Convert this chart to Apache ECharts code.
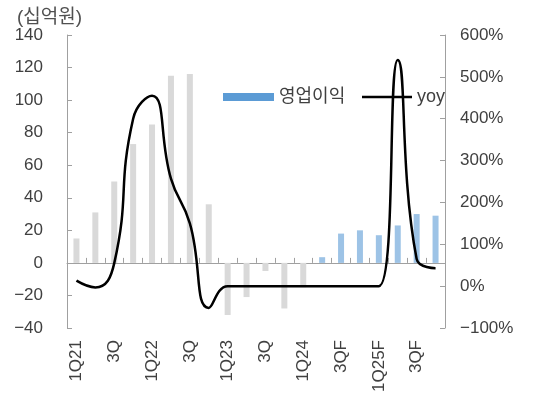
<!DOCTYPE html>
<html>
<head>
<meta charset="utf-8">
<script src="https://cdn.jsdelivr.net/npm/echarts@6/dist/echarts.min.js"></script>
<style>
html,body{margin:0;padding:0;background:#fff;}
#chart{width:537px;height:398px;}
</style>
</head>
<body>
<div id="chart"></div>
<script>
// ---- data ----
var categories = ['1Q21','2Q21','3Q21','4Q21','1Q22','2Q22','3Q22','4Q22','1Q23','2Q23','3Q23','4Q23','1Q24','2Q24F','3Q24F','4Q24F','1Q25F','2Q25F','3Q25F','4Q25F'];
var tickLabels = ['1Q21','','3Q','','1Q22','','3Q','','1Q23','','3Q','','1Q24','','3QF','','1Q25F','','3QF',''];
var opProfit = [15, 31, 50, 73, 85, 115, 116, 36, -32, -21, -5, -28, -15, 3.5, 18, 20, 17, 23, 30, 29];
var yoy = [13, -3, 55, 400, 455, 257, 150, -52, 0, 0, 0, 0, 0, 0, 0, 0, 0, 540, 65, 43];
var forecastStart = 13; // first forecast quarter index
var unitLabel = '(십억원)';
var seriesNames = ['영업이익', 'yoy'];

var FONT = "'Liberation Sans', 'Noto Sans CJK KR', sans-serif";
var TXT = '#404040';
var AXIS = '#a0a0a0';
function minus(v){ return String(v).replace('-', '\u2212'); }

var chart = echarts.init(document.getElementById('chart'), null, {renderer:'canvas'});
chart.setOption({
  animation: false,
  textStyle: {fontFamily: FONT},
  title: {
    text: unitLabel, left: 12, top: 3,
    textStyle: {fontFamily: FONT, fontSize: 19, fontWeight: 'normal', color: '#505050'}
  },
  legend: [
    {
      data: [{name: seriesNames[0], icon: 'rect', itemStyle: {color: '#5b9bd5'}}],
      left: 218, top: 82, itemWidth: 51, itemHeight: 8,
      textStyle: {fontFamily: FONT, fontSize: 18, color: TXT, lineHeight: 20}
    },
    {
      data: [{name: seriesNames[1], icon: 'rect', itemStyle: {color: '#000'}}],
      left: 357, top: 82, itemWidth: 50, itemHeight: 2.5,
      textStyle: {fontFamily: FONT, fontSize: 18, color: TXT, lineHeight: 20}
    }
  ],
  grid: {left: 67, right: 92, top: 35, bottom: 70, containLabel: false},
  xAxis: [
    {
      type: 'category', data: categories, boundaryGap: true,
      axisLine: {onZero: true, lineStyle: {color: AXIS, width: 1}},
      axisTick: {show: true, inside: true, length: 5, interval: 0, lineStyle: {color: AXIS}},
      axisLabel: {show: false}
    },
    {
      type: 'category', data: categories, boundaryGap: true, position: 'bottom',
      axisLine: {show: false, onZero: false},
      axisTick: {show: false},
      axisLabel: {
        interval: 0, rotate: 90, margin: 12, fontSize: 17, color: TXT, fontFamily: FONT,
        formatter: function(v, i){ return tickLabels[i]; }
      }
    }
  ],
  yAxis: [
    {
      type: 'value', min: -40, max: 140, interval: 20,
      splitLine: {show: false},
      axisLine: {show: true, lineStyle: {color: AXIS}},
      axisTick: {show: true, inside: true, length: 5, lineStyle: {color: AXIS}},
      axisLabel: {margin: 24, fontSize: 17, color: TXT, fontFamily: FONT, formatter: function(v){ return minus(v); }}
    },
    {
      type: 'value', min: -100, max: 600, interval: 100, position: 'right',
      splitLine: {show: false},
      axisLine: {show: true, lineStyle: {color: AXIS}},
      axisTick: {show: true, inside: true, length: 5, lineStyle: {color: AXIS}},
      axisLabel: {margin: 15, fontSize: 17, color: TXT, fontFamily: FONT, formatter: function(v){ return minus(v) + '%'; }}
    }
  ],
  series: [
    {
      name: seriesNames[0], type: 'bar', xAxisIndex: 0, yAxisIndex: 0,
      data: opProfit, barWidth: 6,
      itemStyle: {color: function(p){ return p.dataIndex >= forecastStart ? '#9dc3e6' : '#d9d9d9'; }}
    },
    {
      name: seriesNames[1], type: 'line', xAxisIndex: 0, yAxisIndex: 1,
      data: yoy, smooth: 0.5, symbol: 'none', z: 5,
      lineStyle: {color: '#000', width: 2.5},
      itemStyle: {color: '#000'}
    }
  ]
});
</script>
</body>
</html>
